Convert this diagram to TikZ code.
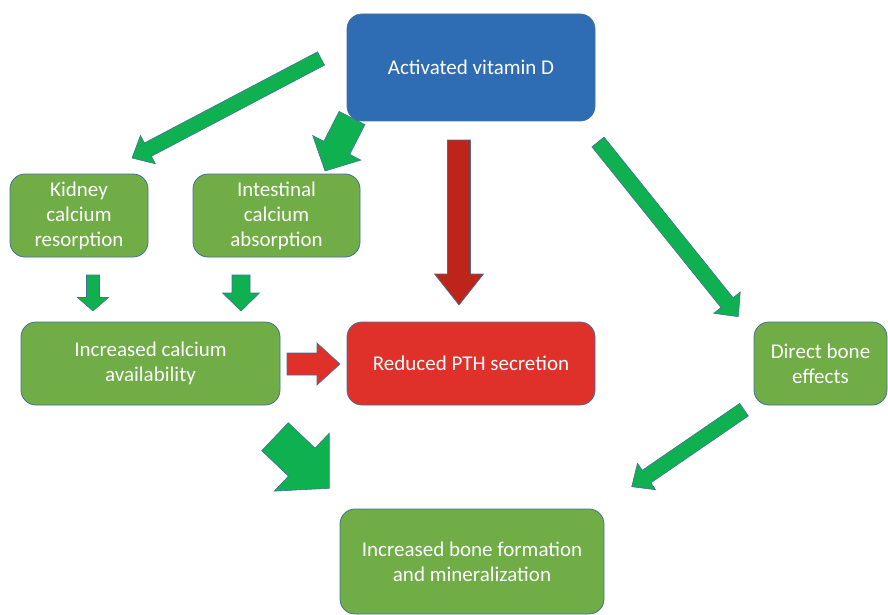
\documentclass[tikz,border=0pt]{standalone}
\usepackage{fontspec}
\setmainfont{Carlito}
\usetikzlibrary{calc}
\definecolor{boxgreen}{HTML}{70AD47}
\definecolor{boxblue}{HTML}{2E6DB4}
\definecolor{boxred}{HTML}{E0302A}
\definecolor{arrgreen}{HTML}{0EB04F}
\definecolor{arrdark}{HTML}{BE251A}
\definecolor{edgeblue}{HTML}{41719C}
\newcommand\blockarrow[6]{%
  \coordinate (ba-hb) at ($(#2)!#5!(#1)$);
  \filldraw[fill=#6, draw=edgeblue, line width=0.6pt, line join=miter]
    ($(#1)!#3!90:(#2)$) -- ($(ba-hb)!#3!-90:(#1)$) -- ($(ba-hb)!#4!-90:(#1)$) -- (#2)
    -- ($(ba-hb)!#4!90:(#1)$) -- ($(ba-hb)!#3!90:(#1)$) -- ($(#1)!#3!-90:(#2)$) -- cycle;
}
\tikzset{
  box/.style={draw=edgeblue, line width=0.8pt, rounded corners=15pt, text=white,
    align=center, inner sep=0pt, font=\fontsize{21}{25}\selectfont},
}
\begin{document}
\begin{tikzpicture}[x=1pt,y=-1pt]
\useasboundingbox (0,0) rectangle (888,615);
% arrow anchor points
\coordinate (a1t) at (321,58.5);   \coordinate (a1h) at (132,158);
\coordinate (a2t) at (352,118);    \coordinate (a2h) at (325,171);
\coordinate (a3t) at (459,140);    \coordinate (a3h) at (459,305);
\coordinate (a4t) at (598,142);    \coordinate (a4h) at (738.3,316.7);
\coordinate (a5t) at (93,275);     \coordinate (a5h) at (93,311);
\coordinate (a6t) at (241,275);    \coordinate (a6h) at (241,311);
\coordinate (a7t) at (287,364);    \coordinate (a7h) at (340,364);
\coordinate (a8t) at (275,436.7);  \coordinate (a8h) at (329.3,488.3);
\coordinate (a9t) at (744,409.7);  \coordinate (a9h) at (631.7,486.7);
\blockarrow{a1t}{a1h}{7.5pt}{16pt}{18pt}{arrgreen}
\blockarrow{a2t}{a2h}{14.5pt}{27pt}{26pt}{arrgreen}
\blockarrow{a3t}{a3h}{11.5pt}{24.5pt}{31pt}{arrdark}
\blockarrow{a4t}{a4h}{7.8pt}{17pt}{18pt}{arrgreen}
\blockarrow{a5t}{a5h}{6.5pt}{15.5pt}{13.5pt}{arrgreen}
\blockarrow{a6t}{a6h}{9pt}{18.5pt}{18pt}{arrgreen}
\blockarrow{a7t}{a7h}{11pt}{21pt}{23pt}{boxred}
\blockarrow{a8t}{a8h}{19.3pt}{40pt}{38pt}{arrgreen}
\blockarrow{a9t}{a9h}{7.6pt}{16pt}{18pt}{arrgreen}
% boxes
\node[box, fill=boxblue, minimum width=248pt, minimum height=107pt] (vitd) at (471,67.5) {Activated vitamin D};
\node[box, fill=boxgreen, minimum width=138pt, minimum height=83pt] (kid) at (79,215.5) {Kidney\\calcium\\resorption};
\node[box, fill=boxgreen, minimum width=167pt, minimum height=83pt] (int) at (276.5,215.5) {Intestinal\\calcium\\absorption};
\node[box, fill=boxgreen, minimum width=259pt, minimum height=83pt] (avail) at (150.5,363.5) {Increased calcium\\availability};
\node[box, fill=boxred, minimum width=248pt, minimum height=83pt] (pth) at (471,363.5) {Reduced PTH secretion};
\node[box, fill=boxgreen, minimum width=133pt, minimum height=83pt] (direct) at (820.5,363.5) {Direct bone\\effects};
\node[box, fill=boxgreen, minimum width=264pt, minimum height=105pt] (bone) at (472,561.5) {Increased bone formation\\and mineralization};
\end{tikzpicture}
\end{document}
